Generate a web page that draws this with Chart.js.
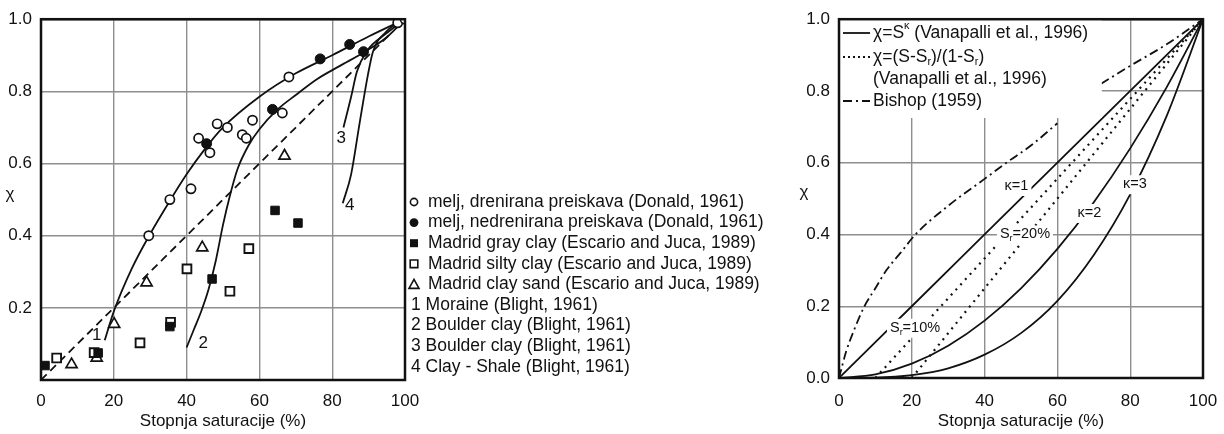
<!DOCTYPE html>
<html>
<head>
<meta charset="utf-8">
<script src="https://cdn.jsdelivr.net/npm/chart.js@4.4.1/dist/chart.umd.min.js"></script>
<style>
html, body { margin: 0; padding: 0; background: #fff; }
#wrap { position: relative; width: 1224px; height: 434px; overflow: hidden; }
canvas { position: absolute; top: 0; }
</style>
</head>
<body>
<div id="wrap">
    <canvas id="left-chart" width="790" height="434" style="left:0"></canvas>
    <canvas id="right-chart" width="434" height="434" style="left:790px"></canvas>
</div>
<script>
// --- data ---
const xTicks = [0, 20, 40, 60, 80, 100];
const yTicks = [0, 0.2, 0.4, 0.6, 0.8, 1.0];
const axisTitle = 'Stopnja saturacije (%)';

// left chart, measured points
const drainedS   = [29.6, 35.4, 41.2, 43.3, 46.4, 48.4, 51.2, 55.3, 56.4, 58.1, 66.3, 68.1, 98, 100];
const drainedChi = [0.40, 0.50, 0.53, 0.67, 0.63, 0.71, 0.70, 0.68, 0.67, 0.72, 0.74, 0.84, 0.99, 1.0];
const undrainedS   = [45.5, 63.6, 76.7, 84.8, 88.6];
const undrainedChi = [0.655, 0.75, 0.89, 0.93, 0.91];
const grayClayS   = [1.1, 15.7, 35.4, 47.0, 64.3, 70.6];
const grayClayChi = [0.04, 0.075, 0.148, 0.28, 0.47, 0.435];
const siltyClayS   = [4.3, 14.6, 27.2, 35.6, 40.1, 51.9, 57.1];
const siltyClayChi = [0.061, 0.076, 0.103, 0.16, 0.308, 0.246, 0.364];
const claySandS   = [8.4, 15.3, 20.1, 29.0, 44.3, 66.9];
const claySandChi = [0.043, 0.061, 0.155, 0.27, 0.367, 0.621];

// left chart, Blight (1961) curves 1-4 and the dashed line
const curve1S   = [17.5, 20, 25, 30, 35, 40, 45, 50, 60, 70, 80, 90, 100];
const curve1Chi = [0.11, 0.19, 0.31, 0.405, 0.49, 0.57, 0.64, 0.70, 0.785, 0.85, 0.90, 0.952, 1.0];
const curve2S   = [40, 42, 44, 46, 48, 50, 52, 54, 57, 60, 65, 70, 76, 82, 89, 95, 100];
const curve2Chi = [0.09, 0.14, 0.19, 0.25, 0.33, 0.43, 0.515, 0.585, 0.65, 0.695, 0.75, 0.79, 0.835, 0.87, 0.91, 0.95, 1.0];
const curve3S   = [83.1, 85.2, 86.8, 89.4, 94.8, 100];
const curve3Chi = [0.70, 0.785, 0.855, 0.91, 0.96, 1.0];
const curve4S   = [82.9, 85.2, 87.5, 89.8, 91.2, 94.8, 100];
const curve4Chi = [0.49, 0.57, 0.71, 0.845, 0.91, 0.965, 1.0];
const dashedS   = [0, 20, 40, 60, 80, 96];
const dashedChi = [0, 0.2, 0.4, 0.6, 0.8, 0.96];

const leftLegend = [
    'melj, drenirana preiskava (Donald, 1961)',
    'melj, nedrenirana preiskava (Donald, 1961)',
    'Madrid gray clay (Escario and Juca, 1989)',
    'Madrid silty clay (Escario and Juca, 1989)',
    'Madrid clay sand (Escario and Juca, 1989)',
    '1 Moraine (Blight, 1961)',
    '2 Boulder clay (Blight, 1961)',
    '3 Boulder clay (Blight, 1961)',
    '4 Clay - Shale (Blight, 1961)'
];
const curveNames = ['1', '2', '3', '4'];
const curveNameS   = [15.3, 44.6, 82.5, 84.8];
const curveNameChi = [0.123, 0.101, 0.669, 0.484];

// right chart curves
const kappa1S   = [0, 20, 40, 60, 80, 100];
const kappa1Chi = [0, 0.2, 0.4, 0.6, 0.8, 1.0];
const kappa2S   = [0, 10, 20, 30, 40, 50, 60, 70, 80, 90, 100];
const kappa2Chi = [0, 0.01, 0.04, 0.09, 0.16, 0.25, 0.36, 0.49, 0.64, 0.81, 1.0];
const kappa3S   = [0, 10, 20, 30, 40, 50, 60, 70, 80, 90, 100];
const kappa3Chi = [0, 0.001, 0.008, 0.027, 0.065, 0.125, 0.215, 0.343, 0.512, 0.73, 1.0];
const sr10S   = [10, 100];
const sr10Chi = [0, 1.0];
const sr20S   = [20, 100];
const sr20Chi = [0, 1.0];
const bishopS   = [0, 2, 4, 7, 10, 13, 17, 21, 30, 40, 46, 53, 60, 66, 72, 80, 90, 100];
const bishopChi = [0, 0.075, 0.13, 0.2, 0.25, 0.3, 0.35, 0.4, 0.48, 0.555, 0.6, 0.65, 0.71, null, 0.82, 0.87, 0.93, 1.0];

const INK = '#111';
const GRID = '#8e8e8e';
const FONT = '"Liberation Sans", Arial, Helvetica, sans-serif';

const pts = (xs, ys) => xs.map((x, i) => ({ x, y: ys[i] }));

function lineSet(xs, ys, dash, width) {
    return {
        data: pts(xs, ys),
        showLine: true,
        borderColor: INK,
        borderWidth: width || 1.8,
        borderDash: dash || [],
        pointRadius: 0,
        tension: 0.4,
        cubicInterpolationMode: 'monotone',
        spanGaps: false,
        fill: false
    };
}

function pointSet(xs, ys, style, radius, filled, bw) {
    return {
        data: pts(xs, ys),
        showLine: false,
        pointStyle: style,
        pointRadius: radius,
        borderColor: INK,
        backgroundColor: filled ? INK : '#fff',
        borderWidth: bw
    };
}

function axes(yZero, tickPad) {
    return {
        x: {
            type: 'linear', min: 0, max: 100,
            afterBuildTicks: s => { s.ticks = xTicks.map(v => ({ value: v })); },
            afterFit: s => {
                s.height = 434 - (yZero ? 378 : 380);
                s.paddingLeft = 0;
                s.paddingRight = 0;
            },
            grid: { color: GRID, lineWidth: 1.4, drawTicks: false },
            border: { display: false },
            ticks: { color: INK, font: { family: FONT, size: 17 }, padding: tickPad, maxRotation: 0 },
            title: { display: true, text: axisTitle, color: INK, font: { family: FONT, size: 17 }, padding: { top: 0, bottom: 2 } }
        },
        y: {
            type: 'linear', min: 0, max: 1,
            afterBuildTicks: s => { s.ticks = yTicks.map(v => ({ value: v })); },
            afterFit: s => { s.width = yZero ? 49 : 41; },
            grid: { color: GRID, lineWidth: 1.4, drawTicks: false },
            border: { display: false },
            ticks: {
                color: INK, font: { family: FONT, size: 17 }, padding: 9,
                callback: v => (v === 0 && !yZero) ? '' : v.toFixed(1)
            }
        }
    };
}

function drawFrame(chart) {
    const { ctx, chartArea: a } = chart;
    ctx.save();
    ctx.strokeStyle = INK;
    ctx.lineWidth = 2.5;
    ctx.strokeRect(a.left, a.top, a.right - a.left, a.bottom - a.top);
    ctx.restore();
}

// text with sub/superscripts, segments: [text, kind]
function richText(ctx, x, y, segs, size) {
    let cx = x;
    segs.forEach(([t, kind]) => {
        const s = kind ? size * 0.62 : size;
        const dy = kind === 'sub' ? size * 0.3 : kind === 'sup' ? -size * 0.38 : 0;
        ctx.font = `${s}px ${FONT}`;
        ctx.fillText(t, cx, y + dy);
        cx += ctx.measureText(t).width;
    });
    return cx - x;
}

function richWidth(ctx, segs, size) {
    let w = 0;
    segs.forEach(([t, kind]) => {
        ctx.font = `${kind ? size * 0.62 : size}px ${FONT}`;
        w += ctx.measureText(t).width;
    });
    return w;
}

function marker(ctx, type, x, y) {
    ctx.save();
    ctx.strokeStyle = INK;
    ctx.fillStyle = INK;
    ctx.lineWidth = 1.6;
    ctx.beginPath();
    if (type === 0) { ctx.arc(x, y, 3.6, 0, Math.PI * 2); ctx.fillStyle = '#fff'; ctx.fill(); ctx.stroke(); }
    if (type === 1) { ctx.arc(x, y, 4.4, 0, Math.PI * 2); ctx.fill(); }
    if (type === 2) { ctx.fillRect(x - 4, y - 4, 8, 8); }
    if (type === 3) { ctx.rect(x - 3.8, y - 3.8, 7.6, 7.6); ctx.stroke(); }
    if (type === 4) { ctx.moveTo(x, y - 5); ctx.lineTo(x + 5, y + 4); ctx.lineTo(x - 5, y + 4); ctx.closePath(); ctx.stroke(); }
    ctx.restore();
}

// --- left chart ---
const leftPlugin = {
    id: 'leftDecor',
    afterDatasetsDraw(chart) {
        const { ctx } = chart;
        drawFrame(chart);
        ctx.save();
        ctx.fillStyle = INK;
        ctx.textBaseline = 'middle';
        ctx.font = `17px ${FONT}`;
        ctx.textAlign = 'center';
        ctx.fillText('χ', 10, 194);
        // curve numbers
        const xs = chart.scales.x, ys = chart.scales.y;
        curveNames.forEach((n, i) => {
            ctx.fillText(n, xs.getPixelForValue(curveNameS[i]), ys.getPixelForValue(curveNameChi[i]));
        });
        // legend
        ctx.textAlign = 'left';
        leftLegend.forEach((label, i) => {
            const y = 202 + i * 20.6;
            ctx.font = `17.5px ${FONT}`;
            if (i < 5) {
                marker(ctx, i, 414, y);
                ctx.fillText(label, 428, y);
            } else {
                ctx.fillText(label, 411, y);
            }
        });
        ctx.restore();
    }
};

new Chart(document.getElementById('left-chart'), {
    type: 'scatter',
    data: {
        datasets: [
            pointSet(drainedS, drainedChi, 'circle', 4.6, false, 1.7),
            pointSet(undrainedS, undrainedChi, 'circle', 5, true, 1),
            pointSet(grayClayS, grayClayChi, 'rect', 6, true, 1),
            pointSet(siltyClayS, siltyClayChi, 'rect', 6.2, false, 1.9),
            pointSet(claySandS, claySandChi, 'triangle', 6.4, false, 1.7),
            lineSet(curve1S, curve1Chi),
            lineSet(curve2S, curve2Chi),
            lineSet(curve3S, curve3Chi),
            lineSet(curve4S, curve4Chi),
            lineSet(dashedS, dashedChi, [8, 5], 1.8)
        ]
    },
    options: {
        responsive: false,
        animation: false,
        events: [],
        layout: { padding: { left: 0, top: 14, right: 790 - 405, bottom: 0 } },
        plugins: { legend: { display: false }, tooltip: { enabled: false } },
        scales: axes(false, 11.5)
    },
    plugins: [leftPlugin]
});

// --- right chart ---
const rightLegendRows = [
    [['χ=S', ''], ['κ', 'sup'], [' (Vanapalli et al., 1996)', '']],
    [['χ=(S-S', ''], ['r', 'sub'], [')/(1-S', ''], ['r', 'sub'], [')', '']],
    [['(Vanapalli et al., 1996)', '']],
    [['Bishop (1959)', '']]
];
const curveLabels = [
    { segs: [['κ=1', '']], s: 45.5, c: 0.535 },
    { segs: [['κ=2', '']], s: 65.5, c: 0.46 },
    { segs: [['κ=3', '']], s: 78.0, c: 0.54 },
    { segs: [['S', ''], ['r', 'sub'], ['=20%', '']], s: 44.2, c: 0.40 },
    { segs: [['S', ''], ['r', 'sub'], ['=10%', '']], s: 14.0, c: 0.14 }
];

const rightPlugin = {
    id: 'rightDecor',
    afterDatasetsDraw(chart) {
        const { ctx } = chart;
        const xs = chart.scales.x, ys = chart.scales.y;
        const a = chart.chartArea;
        ctx.save();
        // legend box covers grid and curve
        ctx.fillStyle = '#fff';
        ctx.fillRect(a.left, a.top, xs.getPixelForValue(72.2) - a.left, 118 - a.top);
        // curve labels with white backing
        curveLabels.forEach(l => {
            const x = xs.getPixelForValue(l.s), y = ys.getPixelForValue(l.c);
            const w = richWidth(ctx, l.segs, 14.5);
            ctx.fillStyle = '#fff';
            ctx.fillRect(x - 3, y - 9, w + 6, 19);
            ctx.fillStyle = INK;
            ctx.textBaseline = 'middle';
            richText(ctx, x, y, l.segs, 14.5);
        });
        drawFrame(chart);
        // legend samples
        ctx.strokeStyle = INK;
        const sx0 = 53, sx1 = 80;
        const sample = (y, dash, w) => {
            ctx.setLineDash(dash);
            ctx.lineWidth = w;
            ctx.beginPath(); ctx.moveTo(sx0, y); ctx.lineTo(sx1, y); ctx.stroke();
        };
        sample(33, [], 1.8);
        sample(57, [2, 3], 2);
        sample(101, [9, 4, 2, 4], 1.8);
        ctx.setLineDash([]);
        ctx.fillStyle = INK;
        ctx.textBaseline = 'middle';
        ctx.textAlign = 'left';
        const rowY = [33, 57, 79, 101];
        rightLegendRows.forEach((segs, i) => richText(ctx, 83, rowY[i], segs, 17.5));
        ctx.font = `17px ${FONT}`;
        ctx.textAlign = 'center';
        ctx.fillText('χ', 14, 192);
        ctx.restore();
    }
};

new Chart(document.getElementById('right-chart'), {
    type: 'scatter',
    data: {
        datasets: [
            lineSet(kappa1S, kappa1Chi),
            lineSet(kappa2S, kappa2Chi),
            lineSet(kappa3S, kappa3Chi),
            lineSet(sr10S, sr10Chi, [2, 5], 2.2),
            lineSet(sr20S, sr20Chi, [2, 5], 2.2),
            lineSet(bishopS, bishopChi, [9, 4, 2, 4], 1.8)
        ]
    },
    options: {
        responsive: false,
        animation: false,
        events: [],
        layout: { padding: { left: 0, top: 14, right: 21, bottom: 0 } },
        plugins: { legend: { display: false }, tooltip: { enabled: false } },
        scales: axes(true, 13.5)
    },
    plugins: [rightPlugin]
});
</script>
</body>
</html>
